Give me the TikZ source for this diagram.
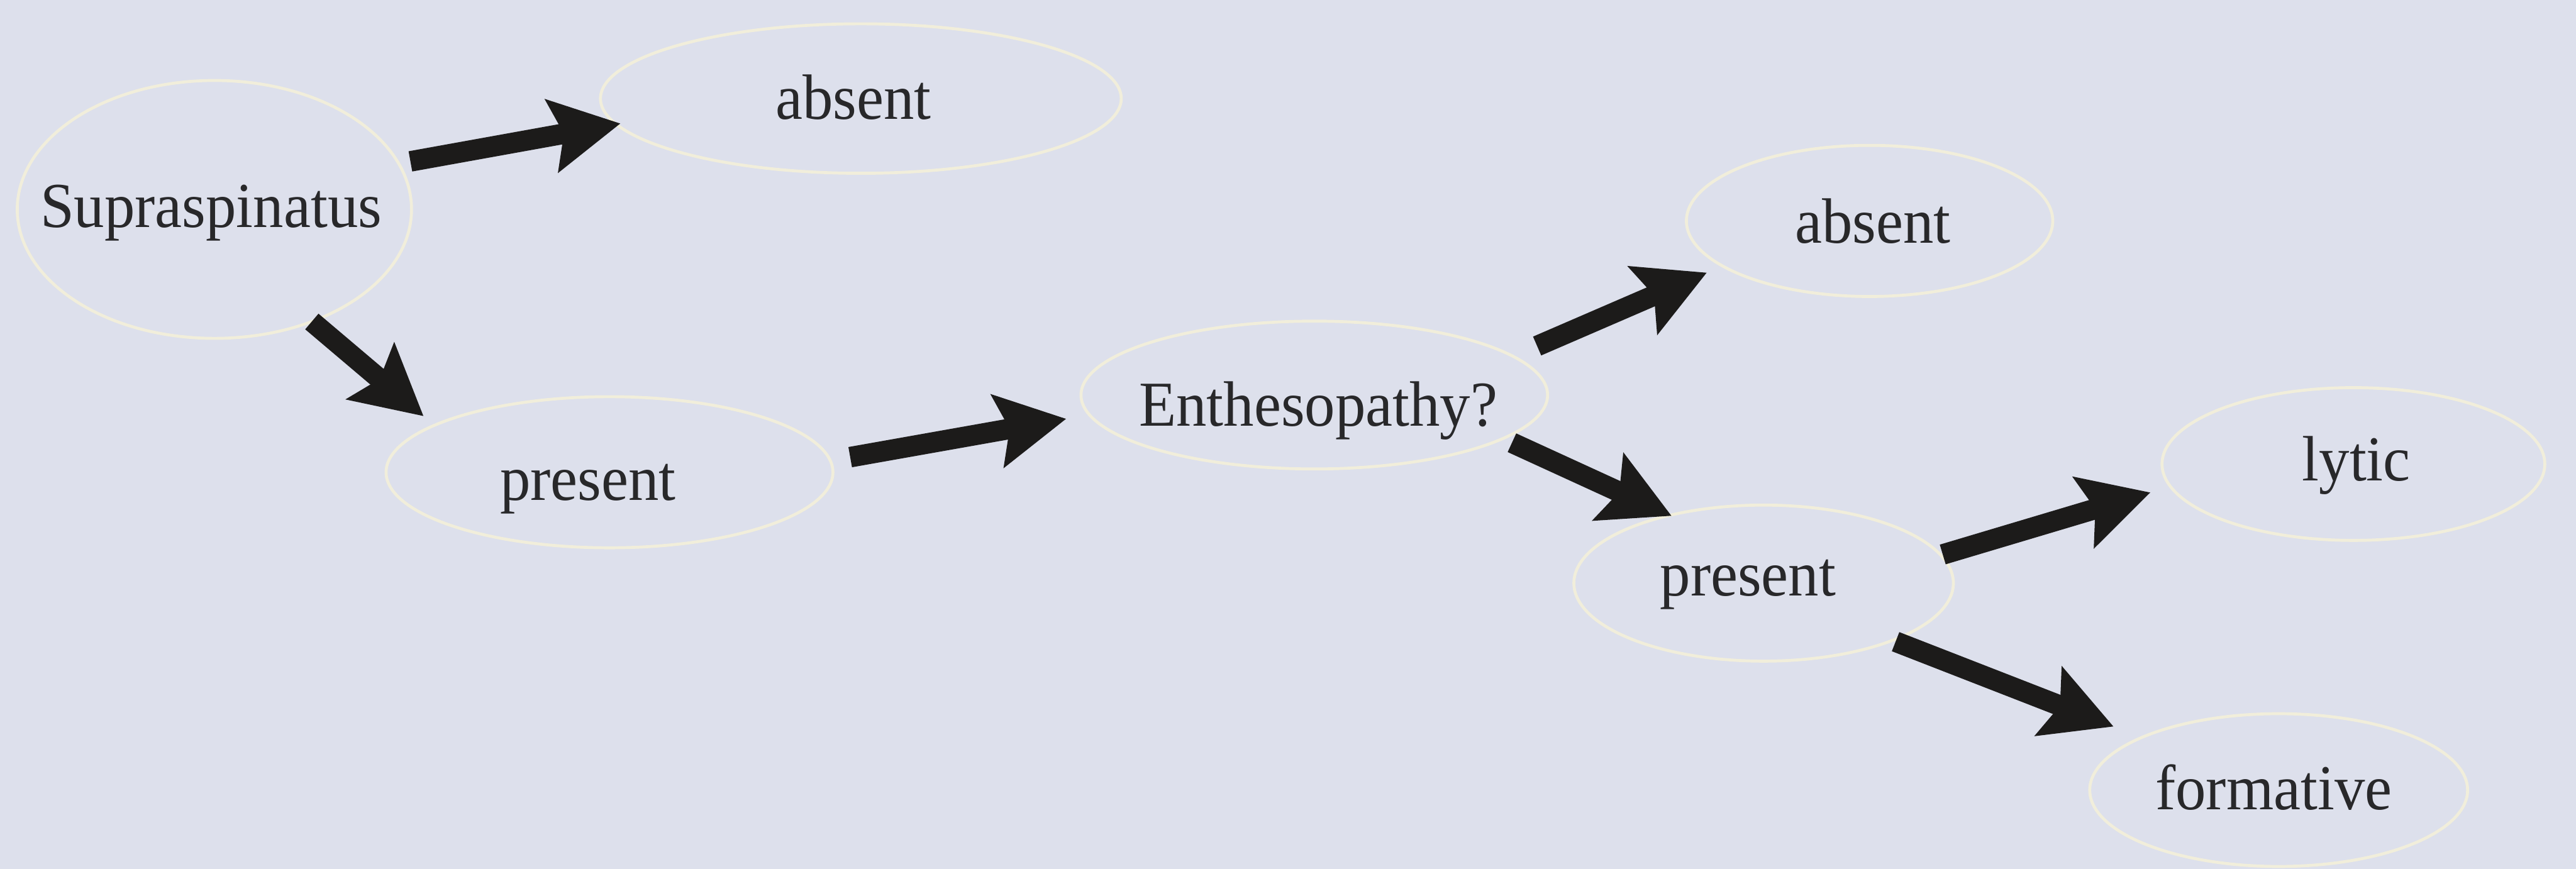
\documentclass[tikz,border=0pt]{standalone}
\usepackage{fontspec}
\setmainfont{Liberation Serif}[FakeStretch=0.95]
\usetikzlibrary{arrows.meta,shapes.geometric}
\definecolor{bg}{RGB}{221,224,236}
\definecolor{rim}{RGB}{241,238,219}
\definecolor{ink}{RGB}{40,40,42}
\definecolor{arrowink}{RGB}{28,27,26}
\begin{document}
\begin{tikzpicture}[x=0.5pt,y=-0.5pt,
  ell/.style={ellipse, draw=rim, line width=0.9pt, inner sep=0pt, outer sep=0pt},
  lbl/.style={anchor=base, text=ink, font=\fontsize{19.5pt}{22pt}\selectfont, inner sep=0pt},
  arr/.style={draw=arrowink, line width=6.25pt, -{Stealth[length=21pt,width=22pt,inset=3.5pt]}}]
\fill[bg] (0,0) rectangle (1568,529);
\useasboundingbox (0,0) rectangle (1568,529);

% ellipses
\node[ell, minimum width=120pt,   minimum height=78.5pt] (sup)   at (130.5,127.5) {};
\node[ell, minimum width=158.5pt, minimum height=45.5pt] (abs1)  at (524,60)      {};
\node[ell, minimum width=136pt,   minimum height=46pt]   (pres1) at (371,287.5)   {};
\node[ell, minimum width=142pt,   minimum height=45pt]   (enth)  at (800,240.5)   {};
\node[ell, minimum width=111.5pt, minimum height=46pt]   (abs2)  at (1138,134.5)  {};
\node[ell, minimum width=115.5pt, minimum height=47.5pt] (pres2) at (1073.5,355)  {};
\node[ell, minimum width=116.5pt, minimum height=46.5pt] (lytic) at (1432.5,282.5) {};
\node[ell, minimum width=115pt,   minimum height=46.5pt] (form)  at (1387,481)    {};

% labels
\node[lbl] (supt)   at (128.5,138.5)  {Supraspinatus};
\node[lbl] (abs1t)  at (519.4,72.7)   {absent};
\node[lbl] (pres1t) at (357.9,304.4)  {present};
\node[lbl] (entht)  at (802.5,259.3)  {Enthesopathy?};
\node[lbl] (abs2t)  at (1139.9,148)   {absent};
\node[lbl] (pres2t) at (1064,362.7)   {present};
\node[lbl] (lytict) at (1434.3,292.6) {lytic};
\node[lbl] (formt)  at (1384,493)     {formative};

% arrows
\draw[arr, shorten <=3.65pt, shorten >=-1.3pt] (sup.14.25)  -- (abs1.186.73);
\draw[arr, shorten <=0pt,    shorten >=4.3pt]  (sup.-49.66) -- (pres1.165.2);
\draw[arr, shorten <=6.15pt, shorten >=7.15pt] (pres1.3.97) -- (enth.185.77);
\draw[arr, shorten <=7.95pt, shorten >=5.15pt] (enth.11.51) -- (abs2.197.71);
\draw[arr, shorten <=3.05pt, shorten >=-0.5pt] (enth.-13.01) -- (pres2.144.44);
\draw[arr, shorten <=0.65pt, shorten >=6.35pt] (pres2.9.08) -- (lytic.187.29);
\draw[arr, shorten <=1.05pt, shorten >=9.15pt] (pres2.-24.36) -- (form.159.8);
\end{tikzpicture}
\end{document}
